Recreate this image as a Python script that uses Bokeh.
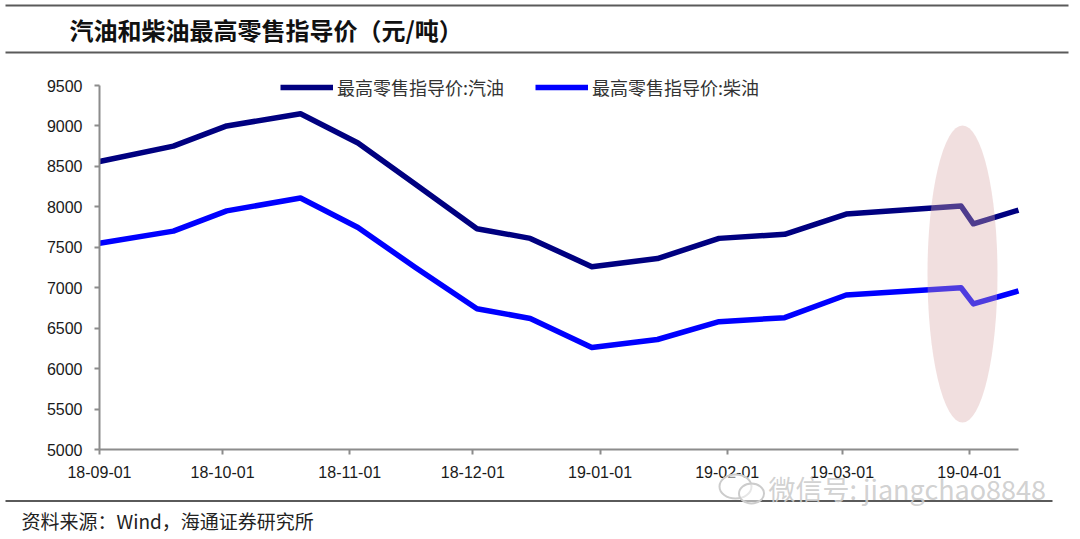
import pandas as pd
from bokeh.plotting import figure
from bokeh.models import (ColumnDataSource, FixedTicker, DatetimeTickFormatter,
                          Range1d, Legend, LegendItem)
from bokeh.core.properties import value
from bokeh.embed import file_html
from bokeh.resources import INLINE

# ---------------- data ----------------
dates = ["2018-09-01", "2018-09-19", "2018-10-02", "2018-10-20", "2018-11-03",
         "2018-11-17", "2018-12-02", "2018-12-15", "2018-12-30", "2019-01-15",
         "2019-01-30", "2019-02-15", "2019-03-02", "2019-03-30", "2019-04-02",
         "2019-04-13"]
gasoline = [8560, 8750, 9000, 9150, 8790, 8280, 7730, 7610, 7260, 7360,
            7610, 7660, 7910, 8010, 7790, 7960]
diesel = [7550, 7700, 7950, 8110, 7745, 7250, 6740, 6620, 6260, 6360,
          6580, 6630, 6910, 7000, 6800, 6960]
series_names = ["最高零售指导价:汽油", "最高零售指导价:柴油"]
y_ticks = [5000, 5500, 6000, 6500, 7000, 7500, 8000, 8500, 9000, 9500]
x_tick_dates = ["2018-09-01", "2018-10-01", "2018-11-01", "2018-12-01",
                "2019-01-01", "2019-02-01", "2019-03-01", "2019-04-01"]
title_text = "汽油和柴油最高零售指导价（元/吨）"
source_text = "资料来源：Wind，海通证券研究所"
watermark_text = "微信号: jiangchao8848"

# ---------------- geometry (page pixels) ----------------
W, H = 1080, 539
PLOT_L, PLOT_R, PLOT_T, PLOT_B = 99, 1018, 85, 449   # data area in the page
CJK = "Noto Sans CJK SC"
rule_col = "#5a5a5a"

x0 = pd.Timestamp("2018-09-01").value / 1e6
x1 = pd.Timestamp("2019-04-13").value / 1e6
ms_per_px = (x1 - x0) / (PLOT_R - PLOT_L)
y_lo, y_hi = 5000, 9500
u_per_px = (y_hi - y_lo) / (PLOT_B - PLOT_T)

p = figure(width=W, height=H, output_backend="svg", toolbar_location=None,
           x_axis_type="datetime",
           x_range=Range1d(x0 - PLOT_L * ms_per_px, x1 + (W - PLOT_R) * ms_per_px),
           y_range=Range1d(y_lo - (H - PLOT_B) * u_per_px, y_hi + PLOT_T * u_per_px),
           min_border=0, min_border_left=0, min_border_right=0,
           min_border_top=0, min_border_bottom=0)
p.extra_x_ranges = {"px": Range1d(0, W)}
p.extra_y_ranges = {"px": Range1d(H, 0)}
p.background_fill_color = "white"
p.border_fill_color = "white"
p.outline_line_color = None
p.xgrid.visible = False
p.ygrid.visible = False

axis_col = "#8c8c8c"
for ax in (p.xaxis[0], p.yaxis[0]):
    ax.axis_line_color = axis_col
    ax.axis_line_width = 2
    ax.major_tick_line_color = axis_col
    ax.major_tick_line_width = 2
    ax.major_tick_out = 5
    ax.major_tick_in = 0
    ax.minor_tick_line_color = None
    ax.major_label_text_font = "Liberation Sans"
    ax.major_label_text_font_size = "16px"
    ax.major_label_text_color = "#1a1a1a"

p.yaxis.fixed_location = x0
p.yaxis.bounds = (y_lo, y_hi)
p.yaxis.ticker = FixedTicker(ticks=y_ticks)
p.yaxis.major_label_standoff = 12

p.xaxis.fixed_location = y_lo
p.xaxis.bounds = (x0, x1)
p.xaxis.ticker = FixedTicker(ticks=[pd.Timestamp(d).value / 1e6 for d in x_tick_dates])
fmt = "%y-%m-%d"
p.xaxis.formatter = DatetimeTickFormatter(days=fmt, months=fmt, years=fmt,
                                          hours=fmt, minutes=fmt, seconds=fmt,
                                          milliseconds=fmt, microseconds=fmt,
                                          hourmin=fmt, minsec=fmt)
p.xaxis.major_label_standoff = 11

# ---------------- header / footer decorations (page-pixel range) ----------------
px = dict(x_range_name="px", y_range_name="px")
p.segment(x0=[5, 5, 5], y0=[5, 52, 500.5], x1=[1068, 1068, 1052], y1=[5, 52, 500.5],
          line_color=rule_col, line_width=2, **px)
p.text(x=[69], y=[29], text=[title_text], text_font=value(CJK),
       text_font_size="24px", text_font_style="bold", text_color="#111111",
       text_baseline="middle", text_align="left", **px)
p.text(x=[21], y=[520], text=[source_text], text_font=value(CJK),
       text_font_size="19px", text_color="#222222",
       text_baseline="middle", text_align="left", **px)

# ---------------- series ----------------
src = ColumnDataSource(dict(x=pd.to_datetime(dates), g=gasoline, d=diesel))
r_g = p.line("x", "g", source=src, line_color="#000080", line_width=5.5, line_join="round")
r_d = p.line("x", "d", source=src, line_color="#0000FF", line_width=5.5, line_join="round")

# highlight ellipse (translucent, over the lines)
p.ellipse(x=[962], y=[273.5], width=70, height=297,
          width_units="screen", height_units="screen",
          fill_color="#D9A6A6", fill_alpha=0.36, line_color=None, **px)

legend = Legend(items=[LegendItem(label=series_names[0], renderers=[r_g]),
                       LegendItem(label=series_names[1], renderers=[r_d])],
                orientation="horizontal", location=(280, H - 99.5),
                glyph_width=53, glyph_height=16, label_height=16,
                label_standoff=4, spacing=31, padding=0, margin=0,
                border_line_color=None, background_fill_alpha=0,
                label_text_font=CJK, label_text_font_size="18px",
                label_text_color="#333333")
p.add_layout(legend, "center")

# ---------------- watermark (on top of everything) ----------------
p.ellipse(x=[735, 751], y=[486, 493], width=[32, 25], height=[24, 20],
          width_units="screen", height_units="screen",
          fill_color="white", fill_alpha=0.5, line_color="#cccccc", line_width=2,
          level="overlay", **px)
p.text(x=[768], y=[488], text=[watermark_text], text_font=value(CJK),
       text_font_size="27px", text_color="#cccccc", text_alpha=0.9,
       text_baseline="middle", text_align="left", level="overlay", **px)

open("out.html", "w").write(file_html(p, INLINE))
